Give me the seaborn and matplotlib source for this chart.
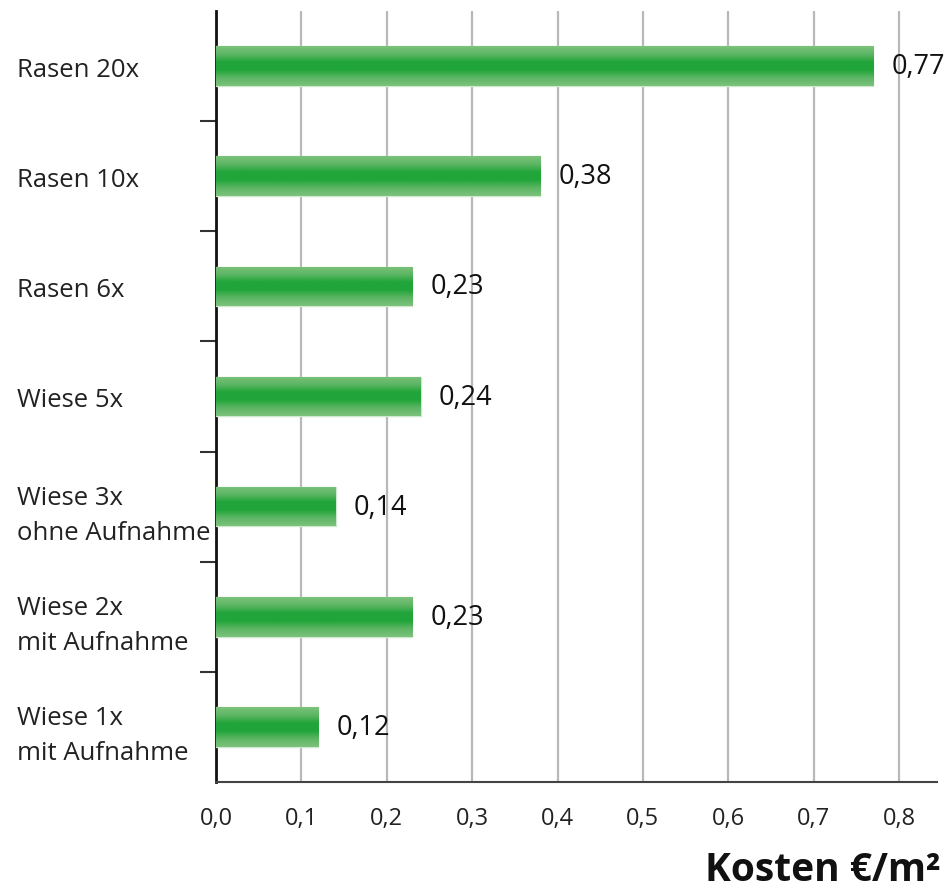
import numpy as np
import pandas as pd
import matplotlib.pyplot as plt
import seaborn as sns
from matplotlib.colors import LinearSegmentedColormap
from matplotlib.ticker import FixedLocator

categories = ["Rasen 20x", "Rasen 10x", "Rasen 6x", "Wiese 5x",
              "Wiese 3x\nohne Aufnahme", "Wiese 2x\nmit Aufnahme",
              "Wiese 1x\nmit Aufnahme"]
costs = [0.77, 0.38, 0.23, 0.24, 0.14, 0.23, 0.12]
value_labels = ["0,77", "0,38", "0,23", "0,24", "0,14", "0,23", "0,12"]
x_ticks = [0.0, 0.1, 0.2, 0.3, 0.4, 0.5, 0.6, 0.7, 0.8]
x_tick_labels = ["0,0", "0,1", "0,2", "0,3", "0,4", "0,5", "0,6", "0,7", "0,8"]

df = pd.DataFrame({"kategorie": categories, "kosten": costs})

sns.set_style("white")
plt.rcParams["font.family"] = ["Open Sans", "DejaVu Sans"]

fig = plt.figure(figsize=(9.49, 8.95), dpi=100)
ax = fig.add_axes([0.2276, 0.1251, 0.7598, 0.8615])

sns.barplot(data=df, y="kategorie", x="kosten", orient="h", width=0.36,
            color="#21a53a", edgecolor="#cfe8cf", linewidth=1, ax=ax, zorder=3)

# vertical gradient: light edges, dark green in the middle
cmap = LinearSegmentedColormap.from_list(
    "bar", ["#7cc27c", "#5db563", "#21a53a", "#21a53a", "#5db563", "#7cc27c"])
grad = np.linspace(0, 1, 64).reshape(-1, 1)
for p in ax.patches:
    x0, y0 = p.get_x(), p.get_y()
    w, h = p.get_width(), p.get_height()
    im = ax.imshow(grad, cmap=cmap, aspect="auto", extent=[x0, x0 + w, y0 + h, y0],
                   zorder=4, interpolation="bicubic")
    im.set_clip_path(p)

for i, (v, lab) in enumerate(zip(costs, value_labels)):
    ax.text(v + 0.021, i, lab, va="center", ha="left", fontsize=19.5,
            color="#111111", zorder=5)

ax.set_xlim(0, 0.8445)
ax.set_ylim(6.5, -0.5)
ax.set_xticks(x_ticks)
ax.set_xticklabels(x_tick_labels, fontsize=17, color="#222222")
ax.tick_params(axis="x", length=0, pad=17)
ax.grid(axis="x", color="#b8b8b8", linewidth=1.6, zorder=0)
ax.grid(axis="y", visible=False)

ax.set_yticks(range(len(categories)))
ax.set_yticklabels(categories, fontsize=18.5, color="#222222", ha="left",
                   multialignment="left", linespacing=1.55)
ax.tick_params(axis="y", which="major", length=0, pad=143)
ax.yaxis.set_minor_locator(FixedLocator(np.arange(0.5, 6.5, 1.0)))
ax.tick_params(axis="y", which="minor", length=11.5, width=1.5, color="#333333",
               direction="out", left=True)

ax.set_ylabel("")
ax.set_xlabel("")
for side in ["top", "right"]:
    ax.spines[side].set_visible(False)
ax.spines["left"].set_color("#111111")
ax.spines["left"].set_linewidth(2)
ax.spines["bottom"].set_color("#444444")
ax.spines["bottom"].set_linewidth(1.5)

fig.text(0.991, 0.016, "Kosten €/m²", ha="right", va="baseline",
         fontsize=28, fontweight="bold", color="#111111")

fig.savefig("out.png", dpi=100)
